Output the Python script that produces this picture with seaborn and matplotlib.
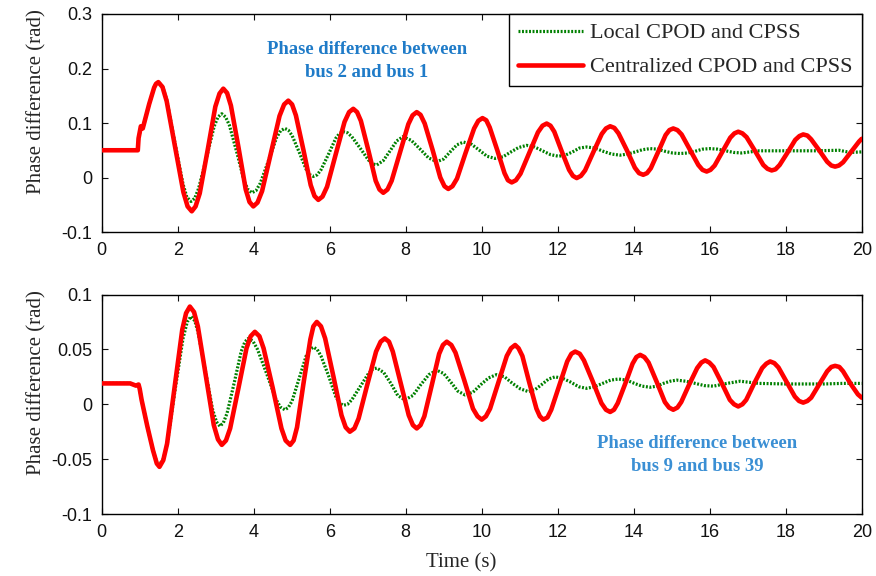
import matplotlib
matplotlib.use("Agg")
import matplotlib.pyplot as plt
from matplotlib.lines import Line2D
from matplotlib.ticker import FixedLocator, FuncFormatter
import seaborn as sns
import pandas as pd

sns.set_style("ticks")
plt.rcParams["font.family"] = ["Liberation Serif", "DejaVu Serif"]

# ---- simulated responses (time in s, phase difference in rad) ----
# bus 2 - bus 1, local controllers
top_local = [
    (0.00, 0.050), (0.95, 0.050), (0.97, 0.072), (1.03, 0.092), (1.08, 0.090),
    (1.25, 0.135), (1.38, 0.165), (1.43, 0.172), (1.49, 0.175),
    (1.60, 0.167), (1.71, 0.143), (1.92, 0.066), (2.14, -0.012), (2.24, -0.036), (2.35, -0.044),
    (2.45, -0.038), (2.55, -0.020), (2.76, 0.037), (2.96, 0.094), (3.06, 0.111), (3.16, 0.117),
    (3.26, 0.111), (3.36, 0.096), (3.56, 0.045), (3.75, -0.007), (3.85, -0.022), (3.95, -0.028),
    (4.06, -0.024), (4.17, -0.011), (4.39, 0.031), (4.60, 0.073), (4.71, 0.086), (4.82, 0.090),
    (4.91, 0.087), (5.01, 0.077), (5.20, 0.046), (5.38, 0.015), (5.48, 0.005), (5.57, 0.002),
    (5.67, 0.005), (5.77, 0.014), (5.97, 0.043), (6.16, 0.072), (6.26, 0.081), (6.36, 0.084),
    (6.47, 0.082), (6.58, 0.075), (6.80, 0.054), (7.02, 0.032), (7.13, 0.025), (7.24, 0.023),
    (7.41, 0.031), (7.59, 0.049), (7.76, 0.067), (7.93, 0.075),
    (8.15, 0.068), (8.38, 0.052), (8.60, 0.036), (8.82, 0.029),
    (9.00, 0.034), (9.17, 0.047), (9.35, 0.060), (9.52, 0.065),
    (9.73, 0.061), (9.94, 0.050), (10.14, 0.039), (10.35, 0.035),
    (10.56, 0.038), (10.77, 0.047), (10.97, 0.055), (11.18, 0.059),
    (11.39, 0.056), (11.60, 0.049), (11.81, 0.042), (12.02, 0.039),
    (12.20, 0.041), (12.39, 0.047), (12.57, 0.054), (12.76, 0.056),
    (12.98, 0.054), (13.20, 0.048), (13.42, 0.043), (13.64, 0.041),
    (13.84, 0.043), (14.04, 0.047), (14.23, 0.051), (14.43, 0.053),
    (14.63, 0.052), (14.83, 0.048), (15.02, 0.045), (15.22, 0.044),
    (15.42, 0.045), (15.61, 0.048), (15.81, 0.052), (16.00, 0.053),
    (16.21, 0.052), (16.42, 0.049), (16.63, 0.046), (16.84, 0.045),
    (17.30, 0.049), (18.00, 0.049), (18.80, 0.049), (19.40, 0.050),
    (19.70, 0.046), (20.00, 0.047),
]

# bus 2 - bus 1, centralized controllers
top_central = [
    (0.00, 0.050), (0.95, 0.050), (0.97, 0.072), (1.03, 0.094), (1.08, 0.090),
    (1.25, 0.135), (1.38, 0.165), (1.43, 0.172), (1.49, 0.175),
    (1.60, 0.166), (1.71, 0.140), (1.93, 0.057), (2.15, -0.027), (2.26, -0.053), (2.37, -0.062),
    (2.47, -0.053), (2.58, -0.029), (2.79, 0.051), (2.99, 0.130), (3.10, 0.154), (3.20, 0.163),
    (3.30, 0.155), (3.40, 0.132), (3.60, 0.055), (3.79, -0.022), (3.89, -0.045), (3.99, -0.053),
    (4.10, -0.046), (4.22, -0.025), (4.45, 0.044), (4.68, 0.113), (4.80, 0.134), (4.91, 0.141),
    (5.01, 0.134), (5.11, 0.114), (5.31, 0.050), (5.50, -0.014), (5.60, -0.034), (5.70, -0.041),
    (5.81, -0.035), (5.93, -0.017), (6.16, 0.043), (6.39, 0.102), (6.51, 0.120), (6.62, 0.126),
    (6.72, 0.120), (6.82, 0.104), (7.02, 0.049), (7.21, -0.006), (7.31, -0.022), (7.41, -0.028),
    (7.52, -0.022), (7.63, -0.006), (7.85, 0.046), (8.07, 0.098), (8.18, 0.114), (8.29, 0.120),
    (8.39, 0.115), (8.50, 0.099), (8.71, 0.050), (8.91, 0.000), (9.02, -0.016), (9.12, -0.021),
    (9.23, -0.016), (9.35, -0.002), (9.57, 0.044), (9.80, 0.090), (9.91, 0.104), (10.02, 0.109),
    (10.12, 0.105), (10.21, 0.092), (10.41, 0.050), (10.60, 0.008), (10.69, -0.005), (10.79, -0.009),
    (10.90, -0.005), (11.02, 0.007), (11.25, 0.045), (11.48, 0.083), (11.60, 0.095), (11.71, 0.099),
    (11.81, 0.095), (11.91, 0.084), (12.10, 0.049), (12.30, 0.014), (12.40, 0.003), (12.50, -0.001),
    (12.61, 0.003), (12.72, 0.013), (12.94, 0.047), (13.16, 0.080), (13.27, 0.090), (13.38, 0.094),
    (13.49, 0.091), (13.60, 0.081), (13.82, 0.050), (14.03, 0.018), (14.14, 0.008), (14.25, 0.005),
    (14.35, 0.008), (14.45, 0.017), (14.65, 0.048), (14.84, 0.078), (14.94, 0.087), (15.04, 0.090),
    (15.15, 0.087), (15.26, 0.079), (15.48, 0.051), (15.70, 0.023), (15.81, 0.014), (15.92, 0.011),
    (16.02, 0.014), (16.13, 0.022), (16.34, 0.048), (16.54, 0.073), (16.65, 0.081), (16.75, 0.084),
    (16.86, 0.081), (16.97, 0.074), (17.19, 0.049), (17.41, 0.023), (17.52, 0.016), (17.63, 0.013),
    (17.73, 0.015), (17.84, 0.023), (18.05, 0.046), (18.25, 0.069), (18.36, 0.076), (18.46, 0.079),
    (18.57, 0.077), (18.67, 0.070), (18.88, 0.050), (19.09, 0.029), (19.20, 0.022), (19.30, 0.020),
    (19.40, 0.022), (19.51, 0.028), (19.72, 0.047), (19.93, 0.066), (20.00, 0.071),
]

# bus 9 - bus 39, local controllers
bottom_local = [
    (0.00, 0.019), (0.75, 0.019), (0.90, 0.017), (0.97, 0.018), (1.00, 0.014),
    (1.05, 0.004), (1.20, -0.020), (1.35, -0.042), (1.45, -0.053), (1.52, -0.055),
    (1.62, -0.050), (1.73, -0.035), (1.93, 0.013), (2.14, 0.060), (2.25, 0.075), (2.35, 0.080),
    (2.45, 0.076), (2.54, 0.065), (2.73, 0.030), (2.92, -0.005), (3.02, -0.016), (3.11, -0.020),
    (3.20, -0.017), (3.30, -0.008), (3.49, 0.020), (3.67, 0.048), (3.77, 0.057), (3.86, 0.060),
    (3.98, 0.0575), (4.10, 0.050), (4.34, 0.028), (4.58, 0.005), (4.70, -0.0025), (4.82, -0.005),
    (4.91, -0.003), (5.01, 0.003), (5.20, 0.024), (5.38, 0.044), (5.48, 0.050), (5.57, 0.052),
    (5.67, 0.050), (5.77, 0.044), (5.97, 0.026), (6.16, 0.007), (6.26, 0.001), (6.36, -0.001),
    (6.47, 0.000), (6.58, 0.004), (6.80, 0.016), (7.02, 0.028), (7.13, 0.032), (7.24, 0.033),
    (7.42, 0.029), (7.61, 0.019), (7.79, 0.008), (7.98, 0.004),
    (8.19, 0.008), (8.40, 0.018), (8.61, 0.027), (8.82, 0.031),
    (9.00, 0.028), (9.19, 0.020), (9.37, 0.012), (9.56, 0.0085),
    (9.77, 0.011), (9.98, 0.018), (10.18, 0.024), (10.39, 0.027),
    (10.60, 0.025), (10.81, 0.019), (11.02, 0.014), (11.23, 0.0115),
    (11.41, 0.0135), (11.58, 0.018), (11.76, 0.023), (11.93, 0.025),
    (12.14, 0.0235), (12.35, 0.020), (12.55, 0.016), (12.76, 0.0145),
    (12.97, 0.016), (13.18, 0.019), (13.39, 0.022), (13.60, 0.023),
    (13.81, 0.022), (14.02, 0.019), (14.22, 0.0165), (14.43, 0.0155),
    (14.61, 0.0165), (14.78, 0.019), (14.96, 0.021), (15.13, 0.022),
    (15.37, 0.021), (15.62, 0.019), (15.86, 0.017), (16.10, 0.0165),
    (16.45, 0.019), (16.80, 0.021), (17.30, 0.019), (18.00, 0.0185),
    (19.00, 0.0185), (19.50, 0.019), (20.00, 0.019),
]

# bus 9 - bus 39, centralized controllers
bottom_central = [
    (0.00, 0.019), (0.75, 0.019), (0.90, 0.017), (0.97, 0.018), (1.00, 0.014),
    (1.05, 0.004), (1.20, -0.020), (1.35, -0.042), (1.45, -0.054), (1.52, -0.057),
    (1.62, -0.051), (1.72, -0.036), (1.92, 0.016), (2.12, 0.068), (2.22, 0.083), (2.32, 0.089),
    (2.43, 0.084), (2.53, 0.071), (2.74, 0.026), (2.95, -0.019), (3.06, -0.032), (3.16, -0.037),
    (3.27, -0.033), (3.38, -0.022), (3.60, 0.015), (3.81, 0.051), (3.92, 0.062), (4.03, 0.066),
    (4.15, 0.062), (4.26, 0.051), (4.50, 0.015), (4.73, -0.022), (4.84, -0.033), (4.96, -0.037),
    (5.05, -0.033), (5.14, -0.021), (5.31, 0.019), (5.49, 0.059), (5.57, 0.071), (5.66, 0.075),
    (5.77, 0.071), (5.88, 0.060), (6.10, 0.025), (6.31, -0.010), (6.42, -0.021), (6.53, -0.025),
    (6.65, -0.022), (6.76, -0.013), (6.99, 0.018), (7.22, 0.048), (7.34, 0.057), (7.45, 0.060),
    (7.56, 0.057), (7.66, 0.048), (7.87, 0.019), (8.08, -0.010), (8.19, -0.019), (8.29, -0.022),
    (8.39, -0.019), (8.49, -0.011), (8.69, 0.018), (8.88, 0.046), (8.98, 0.054), (9.08, 0.057),
    (9.20, 0.054), (9.31, 0.047), (9.54, 0.022), (9.77, -0.004), (9.89, -0.011), (10.00, -0.014),
    (10.11, -0.011), (10.22, -0.004), (10.44, 0.020), (10.66, 0.044), (10.77, 0.051), (10.88, 0.054),
    (10.97, 0.051), (11.07, 0.044), (11.25, 0.020), (11.44, -0.004), (11.53, -0.011), (11.62, -0.014),
    (11.73, -0.012), (11.83, -0.005), (12.04, 0.017), (12.25, 0.039), (12.36, 0.046), (12.46, 0.048),
    (12.58, 0.046), (12.69, 0.040), (12.92, 0.021), (13.15, 0.001), (13.27, -0.005), (13.38, -0.007),
    (13.48, -0.005), (13.58, 0.001), (13.78, 0.019), (13.97, 0.037), (14.07, 0.043), (14.17, 0.045),
    (14.28, 0.043), (14.39, 0.038), (14.61, 0.020), (14.82, 0.002), (14.93, -0.003), (15.04, -0.005),
    (15.15, -0.003), (15.25, 0.002), (15.46, 0.018), (15.67, 0.033), (15.78, 0.038), (15.88, 0.040),
    (15.99, 0.038), (16.10, 0.034), (16.32, 0.019), (16.53, 0.004), (16.64, 0.000), (16.75, -0.002),
    (16.86, 0.000), (16.96, 0.004), (17.17, 0.019), (17.38, 0.033), (17.49, 0.037), (17.59, 0.039),
    (17.70, 0.0375), (17.81, 0.0335), (18.03, 0.020), (18.24, 0.007), (18.35, 0.003), (18.46, 0.0015),
    (18.57, 0.003), (18.67, 0.006), (18.88, 0.018), (19.09, 0.030), (19.20, 0.034), (19.30, 0.035),
    (19.41, 0.034), (19.51, 0.030), (19.72, 0.018), (19.90, 0.009), (20.00, 0.006),
]

series_labels = ["Local CPOD and CPSS", "Centralized CPOD and CPSS"]
x_ticks = [0, 2, 4, 6, 8, 10, 12, 14, 16, 18, 20]
top_y_ticks = [-0.1, 0, 0.1, 0.2, 0.3]
bottom_y_ticks = [-0.1, -0.05, 0, 0.05, 0.1]
top_note = "Phase difference between\nbus 2 and bus 1"
bottom_note = "Phase difference between\nbus 9 and bus 39"

LOCAL_COLOR = "#008000"
CENTRAL_COLOR = "#ff0000"
LOCAL_STYLE = (0, (0.6, 0.5))


def to_frame(points):
    t, v = zip(*points)
    return pd.DataFrame({"t": t, "v": v})


fig = plt.figure(figsize=(8.76, 5.76), dpi=100)
ax_top = fig.add_axes([0.1161, 0.5972, 0.8676, 0.3785])
ax_bot = fig.add_axes([0.1161, 0.1076, 0.8676, 0.3811])

for ax, local, central, yticks in (
    (ax_top, top_local, top_central, top_y_ticks),
    (ax_bot, bottom_local, bottom_central, bottom_y_ticks),
):
    sns.lineplot(data=to_frame(local), x="t", y="v", ax=ax, color=LOCAL_COLOR,
                 linewidth=2.3, linestyle=LOCAL_STYLE, sort=False,
                 estimator=None, zorder=2)
    sns.lineplot(data=to_frame(central), x="t", y="v", ax=ax,
                 color=CENTRAL_COLOR, linewidth=3.3, sort=False,
                 estimator=None, zorder=3, solid_joinstyle="round",
                 solid_capstyle="round")
    ax.set_xlim(0, 20)
    ax.set_ylim(yticks[0], yticks[-1])
    ax.xaxis.set_major_locator(FixedLocator(x_ticks))
    ax.yaxis.set_major_locator(FixedLocator(yticks))
    ax.yaxis.set_major_formatter(FuncFormatter(lambda y, _: f"{y:g}"))
    ax.xaxis.set_major_formatter(FuncFormatter(lambda x, _: f"{x:g}"))
    ax.tick_params(direction="in", top=True, right=True, length=4,
                   width=0.8, labelsize=13, pad=7, colors="#111111")
    for lab in ax.get_xticklabels() + ax.get_yticklabels():
        lab.set_family("Liberation Sans")
    for sp in ax.spines.values():
        sp.set_visible(True)
        sp.set_linewidth(1.0)
        sp.set_color("black")
    ax.set_xlabel("")
    ax.set_ylabel("Phase difference (rad)", fontsize=15)
    ax.yaxis.set_label_coords(-0.072, 0.6)

ax_bot.set_xlabel("Time (s)", fontsize=15)
ax_bot.xaxis.set_label_coords(0.473, -0.18)

ax_top.text(6.97, 0.214, top_note, ha="center", va="center", fontsize=13.4,
            fontweight="bold", color="#1f7bc8", linespacing=1.45)
ax_bot.text(15.66, -0.0465, bottom_note, ha="center", va="center",
            fontsize=13.4, fontweight="bold", color="#3a8fd4", linespacing=1.45)

handles = [
    Line2D([], [], color=LOCAL_COLOR, linewidth=2.3, linestyle=LOCAL_STYLE),
    Line2D([], [], color=CENTRAL_COLOR, linewidth=3.3),
]
leg = ax_top.legend(handles, series_labels, loc="upper right", fontsize=16,
                    frameon=True, fancybox=False, framealpha=1,
                    edgecolor="black", borderaxespad=0, handlelength=2.9,
                    handletextpad=0.35, borderpad=0.4, labelspacing=0.6)
leg.get_frame().set_linewidth(1.0)

fig.savefig("out.png", dpi=100)
